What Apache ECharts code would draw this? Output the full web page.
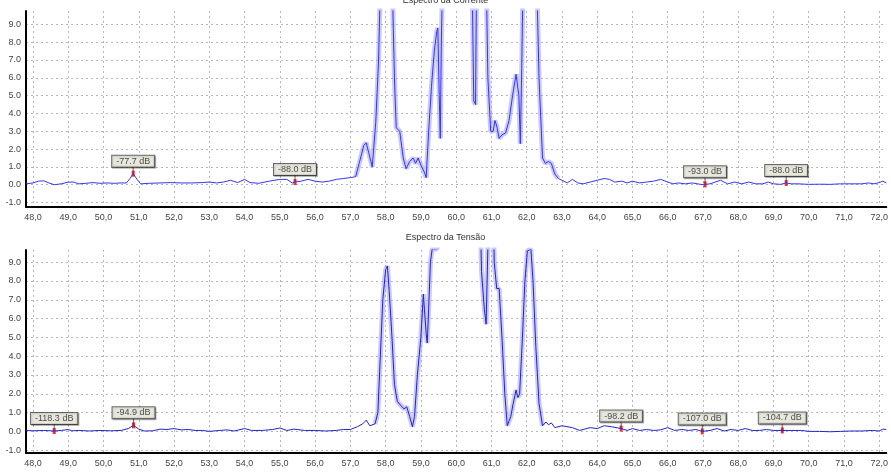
<!DOCTYPE html>
<html>
<head>
<meta charset="utf-8">
<script src="https://cdn.jsdelivr.net/npm/echarts@6/dist/echarts.min.js"></script>
<style>
  html, body { margin: 0; padding: 0; background: #fff; }
  #chart { width: 891px; height: 472px; }
</style>
</head>
<body>
<div id="chart"></div>
<script>
// tick labels
const freqTicks = [48, 49, 50, 51, 52, 53, 54, 55, 56, 57, 58, 59, 60, 61, 62, 63, 64, 65, 66, 67, 68, 69, 70, 71, 72];
const levelTicks = [-1, 0, 1, 2, 3, 4, 5, 6, 7, 8, 9];

// Espectro da Corrente
const correnteX = [47.8, 48.0, 48.15, 48.3, 48.45, 48.6, 48.8, 49.0, 49.15, 49.3, 49.5, 49.7, 49.9, 50.1, 50.3, 50.5, 50.65,
  50.75, 50.84, 50.95, 51.05, 51.3, 51.6, 51.9, 52.2, 52.5, 52.8, 53.0, 53.2, 53.4, 53.6, 53.8, 54.0, 54.15, 54.4, 54.7,
  55.0, 55.2, 55.35, 55.43, 55.6, 55.8, 56.0, 56.2, 56.4, 56.6, 56.8, 57.0, 57.15, 57.25, 57.38, 57.45, 57.52, 57.62,
  57.72, 57.8, 57.86, 58.18, 58.25, 58.3, 58.4, 58.5, 58.58, 58.68, 58.78, 58.85, 58.92, 59.0, 59.1, 59.15, 59.22, 59.3,
  59.38, 59.45, 59.48, 59.52, 59.55, 59.58, 59.62, 60.45, 60.5, 60.55, 60.58, 60.85, 60.9, 60.98, 61.05, 61.1, 61.15,
  61.22, 61.3, 61.4, 61.5, 61.6, 61.7, 61.75, 61.78, 61.82, 61.86, 61.9, 62.28, 62.35, 62.45, 62.53, 62.62, 62.7, 62.8,
  62.9, 63.0, 63.15, 63.3, 63.45, 63.6, 63.8, 64.0, 64.2, 64.35, 64.5, 64.7, 64.85, 65.0, 65.2, 65.4, 65.6, 65.8, 66.0,
  66.15, 66.3, 66.5, 66.7, 66.85, 67.0, 67.06, 67.2, 67.5, 67.7, 67.9, 68.1, 68.3, 68.5, 68.7, 68.85, 69.0, 69.2, 69.36,
  69.5, 69.7, 70.0, 70.3, 70.6, 70.9, 71.2, 71.5, 71.7, 71.85, 72.0, 72.1, 72.2];
const correnteY = [0.05, 0.1, 0.2, 0.22, 0.1, 0.0, 0.05, 0.15, 0.15, 0.05, 0.08, 0.12, 0.08, 0.1, 0.08, 0.1, 0.1,
  0.35, 0.62, 0.3, 0.05, 0.08, 0.1, 0.12, 0.1, 0.1, 0.12, 0.15, 0.1, 0.15, 0.25, 0.12, 0.3, 0.12, 0.08, 0.2,
  0.3, 0.3, 0.1, 0.15, 0.2, 0.3, 0.2, 0.15, 0.2, 0.3, 0.35, 0.4, 0.45, 1.2, 2.2, 2.35, 1.8, 1.0,
  3.5, 7.0, 12, 12, 6.0, 3.2, 3.0, 1.5, 0.9, 1.3, 1.5, 1.2, 1.5, 1.1, 0.7, 0.4, 3.0, 5.5,
  7.5, 8.6, 8.8, 5.0, 2.6, 8.0, 12, 12, 4.7, 4.5, 12, 12, 6.0, 3.0, 3.0, 3.6, 3.3,
  2.6, 2.8, 2.9, 3.6, 5.0, 6.2, 6.3, 5.0, 2.3, 6.5, 12, 12, 6.0, 1.5, 1.2, 1.3, 1.2, 0.6,
  0.35, 0.25, 0.1, 0.3, 0.1, 0.05, 0.15, 0.25, 0.35, 0.3, 0.15, 0.2, 0.1, 0.2, 0.1, 0.15, 0.2, 0.3, 0.15,
  0.05, 0.1, 0.05, 0.1, 0.05, 0.0, 0.02, 0.05, 0.25, 0.05, 0.15, 0.05, 0.15, 0.05, 0.05, 0.15, 0.05, 0.02, 0.1,
  0.05, 0.05, 0.02, 0.03, 0.02, 0.05, 0.05, 0.05, 0.1, 0.05, 0.12, 0.2, 0.1];
const correnteMarks = [[50.84, 0.62, '-77.7 dB'], [55.43, 0.15, '-88.0 dB'], [67.06, 0.02, '-93.0 dB'], [69.36, 0.1, '-88.0 dB']];

// Espectro da Tensão
const tensaoX = [47.8, 48.0, 48.3, 48.6, 48.8, 49.0, 49.1, 49.3, 49.6, 49.9, 50.2, 50.5, 50.7, 50.85, 51.0, 51.15, 51.4,
  51.6, 51.8, 52.0, 52.2, 52.4, 52.6, 52.8, 53.0, 53.3, 53.5, 53.7, 54.0, 54.2, 54.5, 54.8, 55.0, 55.2, 55.4, 55.7, 56.0,
  56.3, 56.6, 56.8, 57.0, 57.2, 57.35, 57.45, 57.55, 57.7, 57.78, 57.85, 57.92, 58.0, 58.05, 58.1, 58.18, 58.25, 58.33,
  58.42, 58.52, 58.6, 58.68, 58.76, 58.82, 58.9, 59.0, 59.07, 59.1, 59.15, 59.18, 59.22, 59.27, 59.32, 59.46, 59.5,
  60.68, 60.72, 60.8, 60.85, 60.9, 61.05, 61.08, 61.15, 61.22, 61.3, 61.38, 61.45, 61.55, 61.62, 61.7, 61.75, 61.8,
  61.88, 61.95, 62.02, 62.12, 62.18, 62.26, 62.35, 62.45, 62.55, 62.62, 62.7, 62.8, 63.0, 63.3, 63.5, 63.8, 64.0, 64.2,
  64.4, 64.68, 64.85, 65.0, 65.2, 65.4, 65.6, 65.8, 66.0, 66.2, 66.4, 66.6, 66.8, 66.98, 67.2, 67.4, 67.6, 67.8, 68.0,
  68.2, 68.4, 68.6, 68.8, 69.0, 69.25, 69.5, 69.8, 70.0, 70.3, 70.6, 70.9, 71.2, 71.5, 71.8, 72.0, 72.1, 72.2];
const tensaoY = [0.05, 0.03, 0.05, 0.02, 0.05, 0.1, 0.03, 0.05, 0.02, 0.05, 0.03, 0.05, 0.15, 0.32, 0.12, 0.02, 0.03,
  0.12, 0.1, 0.15, 0.08, 0.1, 0.05, 0.05, 0.0, 0.05, 0.08, 0.02, 0.15, 0.05, 0.05, 0.1, 0.18, 0.05, 0.12, 0.05, 0.05,
  0.02, 0.05, 0.1, 0.1, 0.25, 0.4, 0.6, 0.3, 0.4, 1.0, 4.0, 7.0, 8.6, 8.8, 7.5, 5.0, 2.5, 1.6,
  1.4, 1.2, 1.3, 0.8, 0.25, 0.8, 3.0, 5.0, 7.3, 6.5, 5.2, 4.7, 6.5, 9.0, 9.7, 9.7, 12,
  12, 8.5, 6.5, 5.7, 9.8, 12, 9.0, 7.6, 7.6, 5.0, 2.0, 0.3, 0.8, 1.5, 2.2, 1.8, 2.0,
  5.0, 8.0, 9.6, 9.7, 8.0, 4.5, 1.5, 0.3, 0.5, 0.35, 0.45, 0.2, 0.3, 0.2, 0.05, 0.2, 0.15, 0.3,
  0.25, 0.15, 0.05, 0.15, 0.05, 0.1, 0.05, 0.08, 0.2, 0.05, 0.1, 0.05, 0.1, 0.0, 0.05, 0.15, 0.02, 0.1, 0.05,
  0.15, 0.05, 0.05, 0.1, 0.05, 0.05, 0.05, 0.05, 0.0, 0.0, -0.02, 0.0, 0.02, 0.02, 0.05, 0.02, 0.12, 0.1];
const tensaoMarks = [[48.6, 0.02, '-118.3 dB'], [50.85, 0.32, '-94.9 dB'], [64.68, 0.15, '-98.2 dB'], [66.98, 0.0, '-107.0 dB'], [69.25, 0.05, '-104.7 dB']];

const pairs = (xs, ys) => xs.map((x, i) => [x, ys[i]]);
const between = (data, a, b) => data.filter(d => d[0] >= a && d[0] <= b);

const font = 'Liberation Sans';
const gridLine = { show: true, lineStyle: { color: '#b8b8b8', type: [2, 3], width: 1 } };

function xAxisFor(i) {
  return {
    type: 'value', gridIndex: i, min: 47.8, max: 72.2,
    axisLine: { show: true, onZero: false, lineStyle: { color: '#000', width: 2 } },
    axisTick: { show: false, customValues: freqTicks },
    axisLabel: {
      customValues: freqTicks, color: '#444', fontSize: 9, fontFamily: font, margin: 6,
      formatter: v => v.toFixed(1).replace('.', ',')
    },
    splitLine: gridLine
  };
}
function yAxisFor(i, min, max) {
  return {
    type: 'value', gridIndex: i, min, max,
    axisLine: { show: true, lineStyle: { color: '#000', width: 2 } },
    axisTick: { show: false, customValues: levelTicks },
    axisLabel: {
      customValues: levelTicks, color: '#444', fontSize: 9, fontFamily: font, margin: 5,
      formatter: v => v.toFixed(1)
    },
    splitLine: gridLine
  };
}
function seriesFor(i, data, haloFrom, haloTo, lineColor, marks) {
  const pts = marks.map(m => ({ value: [m[0], m[1]], name: m[2] }));
  return [
    {
      type: 'line', xAxisIndex: i, yAxisIndex: i, data: between(data, haloFrom, haloTo),
      showSymbol: false, silent: true, lineStyle: { color: 'rgba(150,150,255,0.5)', width: 5 }
    },
    {
      type: 'line', xAxisIndex: i, yAxisIndex: i, data,
      showSymbol: false, silent: true, lineStyle: { color: lineColor, width: 1 }
    },
    {
      type: 'scatter', xAxisIndex: i, yAxisIndex: i, data: pts, silent: true,
      symbol: 'rect', symbolSize: [1, 7], symbolOffset: [0, -4], itemStyle: { color: '#444' }
    },
    {
      type: 'scatter', xAxisIndex: i, yAxisIndex: i, data: pts, silent: true,
      symbol: 'rect', symbolSize: [3, 6], itemStyle: { color: '#e00000' },
      label: {
        show: true, position: 'top', distance: 4, formatter: '{b}',
        color: '#222', fontSize: 9, fontFamily: font,
        backgroundColor: '#f3f3e6', borderColor: '#444', borderWidth: 1, padding: [1, 4, 1, 4],
        shadowColor: 'rgba(0,0,0,0.35)', shadowOffsetX: 1, shadowOffsetY: 1
      }
    }
  ];
}

const chart = echarts.init(document.getElementById('chart'));
chart.setOption({
  animation: false,
  title: [
    { text: 'Espectro da Corrente', left: 'center', top: -9, textStyle: { fontSize: 9, fontWeight: 'normal', color: '#333', fontFamily: font } },
    { text: 'Espectro da Tensão', left: 'center', top: 228, textStyle: { fontSize: 9, fontWeight: 'normal', color: '#333', fontFamily: font } }
  ],
  grid: [
    { left: 26, right: 4, top: 11, height: 196 },
    { left: 26, right: 4, top: 250, height: 203 }
  ],
  xAxis: [xAxisFor(0), xAxisFor(1)],
  yAxis: [yAxisFor(0, -1.25, 9.75), yAxisFor(1, -1.15, 9.65)],
  series: [
    ...seriesFor(0, pairs(correnteX, correnteY), 57.1, 62.9, '#3535f0', correnteMarks),
    ...seriesFor(1, pairs(tensaoX, tensaoY), 57.7, 62.5, '#2323c8', tensaoMarks)
  ]
});
</script>
</body>
</html>
